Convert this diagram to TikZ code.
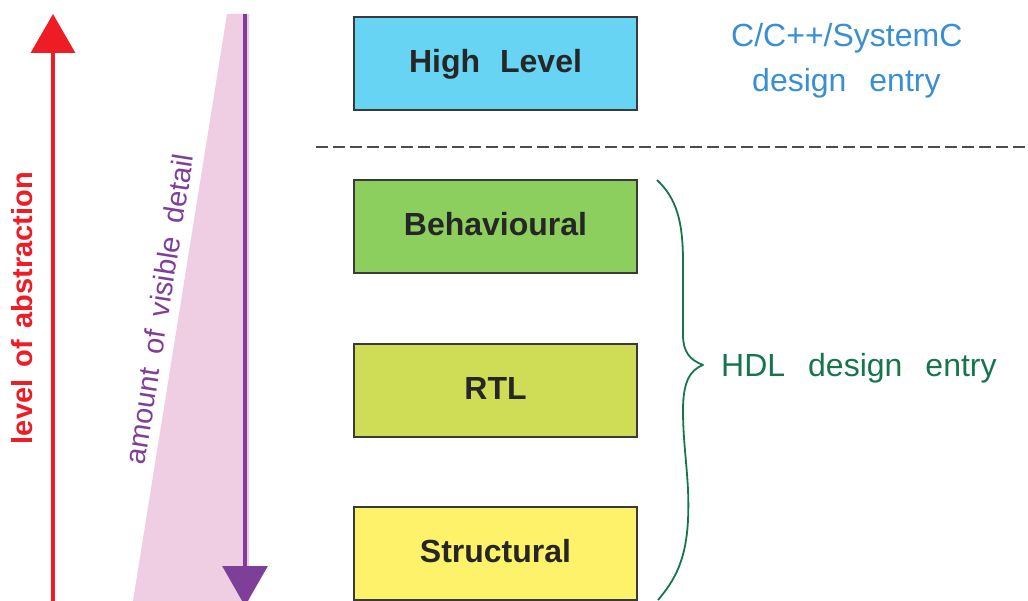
\documentclass[tikz,border=0pt]{standalone}
\usepackage{fontspec}
\setmainfont{Liberation Sans}
\usetikzlibrary{shadows,arrows.meta}

\definecolor{hlcyan}{HTML}{66D4F2}
\definecolor{behgreen}{HTML}{8DCF5E}
\definecolor{rtlgreen}{HTML}{CEDD55}
\definecolor{structyellow}{HTML}{FFF26B}
\definecolor{abstred}{HTML}{EE1C25}
\definecolor{detailpurple}{HTML}{7D3F98}
\definecolor{detailpink}{HTML}{EFCEE3}
\definecolor{entryblue}{HTML}{3A8ED2}
\definecolor{hdlgreen}{HTML}{17754B}
\definecolor{boxedge}{HTML}{3A3A3A}

\begin{document}
\begin{tikzpicture}[x=1pt,y=-1pt,
  levelbox/.style={draw=boxedge, line width=1.6pt, minimum width=283pt,
    minimum height=93pt, inner sep=0pt, text depth=5pt,
    font=\fontsize{32}{38}\selectfont\bfseries, text=black!85,
    drop shadow={shadow xshift=1.2pt, shadow yshift=-1.2pt, fill=black!45, opacity=0.6}},
  entrytext/.style={font=\fontsize{32}{38}\selectfont, inner sep=0pt},
  sidelabel/.style={font=\fontsize{29}{34}\selectfont, inner sep=0pt, text depth=0pt},
  dashline/.style={draw=black!70, line width=1.6pt, dash pattern=on 12pt off 5pt},
]
\useasboundingbox (0,0) rectangle (1028,601);

% wedge showing growing detail, with its downward arrow
\fill[detailpink] (227,14) -- (249,14) -- (249,601) -- (133,601) -- cycle;
\coordinate (detailtop) at (245,14);
\coordinate (detailbot) at (245,606);
\draw[detailpurple, line width=3.2pt, -{Triangle[length=40pt,width=45pt]}] (detailtop) -- (detailbot);

% upward arrow for abstraction
\coordinate (abstbot) at (53,601);
\coordinate (absttop) at (53,14);
\draw[abstred, line width=3.5pt, -{Triangle[length=39pt,width=44pt]}] (abstbot) -- (absttop);

% rotated side labels
\node[sidelabel, font=\fontsize{29}{34}\selectfont\bfseries, text=abstred, rotate=90, anchor=base]
  (abstlabel) at (32,308) {level\hspace{12pt}of\hspace{12pt}abstraction};
\node[sidelabel, text=detailpurple, rotate=81]
  (detaillabel) at (159,309) {amount\hspace{14pt}of\hspace{14pt}visible\hspace{14pt}detail};

% abstraction levels
\node[levelbox, fill=hlcyan]       (high)   at (495.5,63.5)  {High\hspace{20pt}Level};
\node[levelbox, fill=behgreen]     (behav)  at (495.5,226.5) {Behavioural};
\node[levelbox, fill=rtlgreen]     (rtl)    at (495.5,390.5) {RTL};
\node[levelbox, fill=structyellow] (struct) at (495.5,553.5) {Structural};

% separator between high-level and HDL entry
\coordinate (sepL) at (316,147);
\coordinate (sepR) at (1028,147);
\draw[dashline] (sepL) -- (sepR);

% high-level entry label
\node[entrytext, text=entryblue, anchor=base west] (cpp)   at (731,47) {C/C++/SystemC};
\node[entrytext, text=entryblue, anchor=base west] (cppde) at (752,92) {design\hspace{23pt}entry};

% brace grouping the HDL levels
\coordinate (bracetop) at (657,180);
\coordinate (bracetip) at (703,365);
\coordinate (bracebot) at (658,600);
\draw[hdlgreen, line width=1.8pt, line join=round]
  (bracetop) .. controls (676,198) and (683,220) .. (683,262)
  -- (683,335) .. controls (683,352) and (690,360) .. (bracetip)
  .. controls (690,370) and (683,382) .. (683,410)
  .. controls (683,450) and (690,480) .. (688,520)
  .. controls (686,560) and (675,580) .. (bracebot);
\node[entrytext, text=hdlgreen, anchor=base west] (hdl) at (721,377)
  {HDL\hspace{23pt}design\hspace{23pt}entry};
\end{tikzpicture}
\end{document}
